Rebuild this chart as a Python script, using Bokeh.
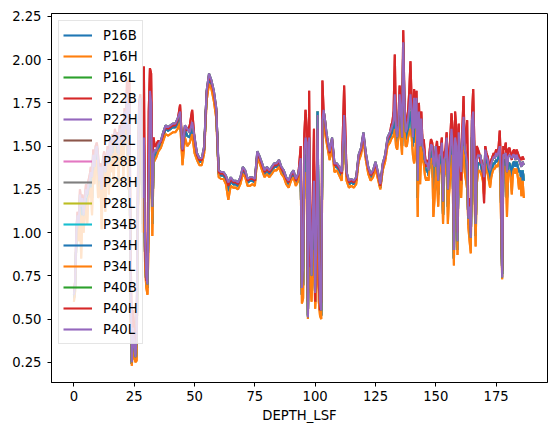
import numpy as np
from bokeh.plotting import figure
from bokeh.models import Range1d, FixedTicker, NumeralTickFormatter, Legend, LegendItem
from bokeh.embed import file_html
from bokeh.resources import INLINE

# ---- depth grid (DEPTH_LSF) ----
depth_a = [float(v) for v in np.arange(0, 35.01, 0.5)]
depth_b = [float(v) for v in range(36, 94)]
depth_c = [float(v) for v in np.arange(94, 105.01, 0.5)]
depth_d = [float(v) for v in range(106, 132)]
depth_e = [float(v) for v in np.arange(131.5, 186.51, 0.5)]

# ---- "high" profile (red, P40H / P22B) ----
hi_a = [0.66, 0.72, 1.02, 1.12, 1.08, 1.25, 1.18, 1.22, 1.14, 1.20,
        1.28, 1.24, 1.30, 1.33, 1.38, 1.34, 1.48, 1.40, 1.50, 1.52,
        1.45, 1.33, 1.40, 1.28, 1.42, 1.47, 1.38, 1.44, 1.50, 1.43,
        1.55, 1.48, 1.57, 1.52, 1.60, 1.53, 1.58, 1.48, 1.62, 1.57,
        1.65, 1.53, 1.72, 1.62, 1.88, 1.55, 1.88, 0.90, 0.40, 0.55,
        0.45, 0.35, 0.45, 1.30, 1.75, 1.80, 1.60, 1.30, 1.96, 0.90,
        0.72, 0.80, 1.70, 1.95, 1.92, 1.40, 1.55, 1.50, 1.50, 1.52,
        1.53]
hi_b = [1.52, 1.57, 1.61, 1.60, 1.61, 1.62, 1.62, 1.65, 1.74, 1.47,
        1.61, 1.59, 1.62, 1.71, 1.54, 1.45, 1.42, 1.42, 1.49, 1.81,
        1.91, 1.87, 1.81, 1.71, 1.35, 1.34, 1.34, 1.32, 1.27, 1.31,
        1.29, 1.29, 1.28, 1.31, 1.37, 1.35, 1.30, 1.31, 1.31, 1.30,
        1.46, 1.43, 1.39, 1.35, 1.37, 1.35, 1.37, 1.39, 1.39, 1.41,
        1.37, 1.35, 1.31, 1.29, 1.33, 1.35, 1.30, 1.33]
hi_c = [1.50, 0.68, 0.90, 1.57, 1.71, 1.60, 0.60, 1.82, 0.80, 0.95,
        1.20, 1.60, 0.60, 1.20, 1.60, 0.70, 0.55, 0.60, 1.88, 1.70,
        1.66, 1.58, 1.54]
hi_d = [1.46, 1.54, 1.39, 1.39, 1.37, 1.34, 1.85, 1.34, 1.29, 1.30,
        1.29, 1.31, 1.44, 1.48, 1.57, 1.45, 1.37, 1.33, 1.35, 1.40,
        1.34, 1.27, 1.39, 1.44, 1.54, 1.57]
hi_e = [1.62, 1.64, 1.70, 2.03, 1.62, 1.57, 1.66, 1.85, 1.75, 1.62,
        2.17, 1.78, 1.62, 1.64, 1.70, 1.82, 1.99, 1.75, 1.60, 1.83,
        1.65, 1.82, 1.40, 1.75, 1.55, 1.70, 1.52, 1.54, 1.45, 1.38,
        1.42, 1.38, 1.48, 1.54, 1.52, 1.45, 1.45, 1.47, 1.53, 1.40,
        1.50, 1.48, 1.55, 1.30, 1.46, 1.48, 1.58, 1.35, 1.45, 1.55,
        1.69, 1.60, 1.00, 1.70, 1.60, 1.00, 1.63, 1.40, 1.30, 1.60,
        1.79, 1.50, 1.55, 1.65, 1.10, 1.20, 1.00, 1.68, 1.83, 1.50,
        1.10, 1.50, 1.48, 1.46, 1.40, 1.42, 1.35, 1.17, 1.50, 1.46,
        1.44, 1.40, 1.38, 1.42, 1.44, 1.46, 1.45, 1.48, 1.46, 1.49,
        1.59, 1.40, 0.78, 1.50, 1.48, 1.52, 1.38, 1.48, 1.49, 1.46,
        1.42, 1.47, 1.48, 1.44, 1.48, 1.46, 1.44, 1.43, 1.42, 1.44,
        1.42]

# ---- "middle" profile (purple, P40L / P22H / P40B) ----
mid_a = [0.64, 0.70, 1.00, 1.10, 1.05, 1.22, 1.15, 1.20, 1.10, 1.18,
         1.25, 1.22, 1.28, 1.30, 1.35, 1.32, 1.45, 1.38, 1.48, 1.50,
         1.42, 1.30, 1.38, 1.25, 1.40, 1.45, 1.35, 1.42, 1.48, 1.40,
         1.52, 1.45, 1.55, 1.50, 1.58, 1.50, 1.55, 1.45, 1.60, 1.55,
         1.62, 1.50, 1.70, 1.60, 1.80, 1.45, 1.75, 0.70, 0.25, 0.45,
         0.35, 0.28, 0.40, 1.20, 1.70, 1.78, 1.55, 1.20, 1.55, 0.95,
         0.75, 0.70, 1.30, 1.82, 1.75, 1.15, 1.45, 1.48, 1.47, 1.49,
         1.51]
mid_b = [1.53, 1.58, 1.62, 1.61, 1.62, 1.63, 1.63, 1.66, 1.70, 1.48,
         1.62, 1.60, 1.58, 1.64, 1.55, 1.46, 1.43, 1.43, 1.50, 1.82,
         1.92, 1.88, 1.82, 1.72, 1.36, 1.35, 1.35, 1.33, 1.29, 1.32,
         1.30, 1.30, 1.29, 1.32, 1.38, 1.36, 1.31, 1.32, 1.32, 1.31,
         1.47, 1.44, 1.40, 1.36, 1.38, 1.36, 1.38, 1.40, 1.40, 1.42,
         1.38, 1.36, 1.32, 1.30, 1.34, 1.36, 1.31, 1.34]
mid_c = [1.43, 0.68, 0.80, 1.47, 1.55, 1.52, 0.51, 1.55, 1.00, 0.75,
         1.10, 1.30, 0.65, 1.00, 1.68, 0.90, 0.60, 0.55, 1.65, 1.71,
         1.66, 1.60, 1.55]
mid_d = [1.47, 1.55, 1.40, 1.40, 1.38, 1.35, 1.68, 1.35, 1.30, 1.31,
         1.30, 1.32, 1.45, 1.49, 1.58, 1.46, 1.38, 1.34, 1.36, 1.41,
         1.35, 1.28, 1.40, 1.45, 1.55, 1.58]
mid_e = [1.60, 1.62, 1.65, 1.80, 1.60, 1.55, 1.62, 1.80, 1.70, 1.55,
         2.10, 1.75, 1.58, 1.60, 1.65, 1.72, 1.80, 1.70, 1.55, 1.78,
         1.60, 1.78, 1.30, 1.70, 1.50, 1.66, 1.50, 1.48, 1.42, 1.40,
         1.40, 1.36, 1.46, 1.51, 1.50, 1.40, 1.38, 1.50, 1.42, 1.30,
         1.45, 1.45, 1.52, 1.18, 1.42, 1.44, 1.55, 1.25, 1.38, 1.48,
         1.60, 1.50, 0.90, 1.55, 1.50, 0.95, 1.58, 1.42, 1.35, 1.55,
         1.67, 1.48, 1.45, 1.40, 1.08, 1.15, 0.97, 1.65, 1.70, 1.45,
         1.05, 1.42, 1.45, 1.44, 1.45, 1.40, 1.38, 1.32, 1.48, 1.44,
         1.42, 1.38, 1.36, 1.40, 1.42, 1.44, 1.43, 1.46, 1.44, 1.47,
         1.50, 1.30, 0.74, 1.45, 1.45, 1.46, 1.35, 1.44, 1.45, 1.44,
         1.43, 1.45, 1.45, 1.42, 1.45, 1.43, 1.42, 1.40, 1.38, 1.41,
         1.39]

# ---- "base" profile (blue / grey / green / others) ----
blu_a = [0.62, 0.68, 0.97, 1.06, 1.00, 1.18, 1.05, 1.15, 1.05, 1.14,
         1.20, 1.15, 1.24, 1.26, 1.30, 1.20, 1.40, 1.33, 1.44, 1.46,
         1.35, 1.26, 1.34, 1.15, 1.36, 1.41, 1.25, 1.38, 1.44, 1.32,
         1.48, 1.40, 1.50, 1.42, 1.54, 1.45, 1.50, 1.38, 1.56, 1.50,
         1.58, 1.42, 1.65, 1.55, 1.72, 1.35, 1.60, 0.60, 0.24, 0.40,
         0.30, 0.26, 0.30, 1.10, 1.62, 1.70, 1.45, 1.05, 1.40, 0.85,
         0.70, 0.68, 1.20, 1.70, 1.60, 1.05, 1.42, 1.45, 1.45, 1.47,
         1.49]
blu_b = [1.51, 1.56, 1.60, 1.59, 1.60, 1.61, 1.61, 1.63, 1.67, 1.44,
         1.59, 1.56, 1.55, 1.60, 1.50, 1.44, 1.41, 1.41, 1.48, 1.79,
         1.89, 1.86, 1.79, 1.69, 1.34, 1.33, 1.33, 1.31, 1.24, 1.30,
         1.28, 1.28, 1.27, 1.30, 1.36, 1.34, 1.29, 1.30, 1.30, 1.29,
         1.45, 1.42, 1.38, 1.34, 1.36, 1.34, 1.36, 1.38, 1.38, 1.40,
         1.36, 1.34, 1.30, 1.28, 1.32, 1.34, 1.29, 1.32]
blu_c = [1.38, 0.64, 0.70, 1.40, 1.45, 1.40, 0.52, 1.40, 0.85, 0.70,
         0.95, 1.10, 0.60, 0.85, 1.70, 0.75, 0.55, 0.52, 1.55, 1.68,
         1.63, 1.57, 1.52]
blu_d = [1.44, 1.52, 1.38, 1.38, 1.36, 1.32, 1.62, 1.33, 1.28, 1.29,
         1.28, 1.30, 1.43, 1.47, 1.56, 1.44, 1.36, 1.32, 1.34, 1.39,
         1.33, 1.26, 1.38, 1.43, 1.53, 1.55]
blu_e = [1.57, 1.58, 1.60, 1.70, 1.55, 1.52, 1.58, 1.72, 1.62, 1.50,
         1.95, 1.68, 1.54, 1.55, 1.60, 1.65, 1.70, 1.62, 1.50, 1.70,
         1.52, 1.70, 1.20, 1.62, 1.40, 1.58, 1.46, 1.44, 1.38, 1.36,
         1.36, 1.33, 1.43, 1.47, 1.46, 1.25, 1.30, 1.44, 1.36, 1.22,
         1.40, 1.40, 1.46, 1.10, 1.38, 1.40, 1.50, 1.15, 1.30, 1.40,
         1.52, 1.40, 0.85, 1.45, 1.40, 0.90, 1.50, 1.36, 1.28, 1.48,
         1.58, 1.42, 1.38, 1.32, 1.05, 1.05, 0.92, 1.55, 1.60, 1.35,
         0.98, 1.35, 1.40, 1.40, 1.40, 1.37, 1.34, 1.28, 1.44, 1.40,
         1.38, 1.34, 1.30, 1.36, 1.38, 1.40, 1.40, 1.42, 1.41, 1.44,
         1.46, 1.20, 0.76, 1.40, 1.42, 1.42, 1.20, 1.40, 1.40, 1.38,
         1.32, 1.40, 1.41, 1.38, 1.41, 1.38, 1.35, 1.36, 1.30, 1.36,
         1.30]

# ---- "low" profile (orange, P34L / P16H) ----
lo_a = [0.60, 0.66, 0.95, 1.02, 0.95, 1.14, 0.85, 1.10, 1.00, 1.10,
        1.16, 1.05, 1.20, 1.22, 1.26, 1.10, 1.36, 1.28, 1.40, 1.42,
        1.20, 1.22, 1.30, 1.02, 1.32, 1.37, 1.12, 1.34, 1.40, 1.22,
        1.44, 1.35, 1.46, 1.30, 1.50, 1.40, 1.46, 1.28, 1.52, 1.45,
        1.54, 1.30, 1.60, 1.50, 1.65, 1.25, 1.50, 0.50, 0.23, 0.35,
        0.28, 0.25, 0.26, 1.00, 1.55, 1.62, 1.35, 1.00, 1.30, 0.80,
        0.68, 0.64, 1.00, 1.60, 1.50, 0.98, 1.40, 1.42, 1.43, 1.45,
        1.47]
lo_b = [1.49, 1.53, 1.57, 1.56, 1.57, 1.58, 1.58, 1.60, 1.64, 1.39,
        1.55, 1.50, 1.52, 1.57, 1.46, 1.42, 1.39, 1.39, 1.46, 1.76,
        1.86, 1.83, 1.76, 1.66, 1.32, 1.31, 1.31, 1.28, 1.19, 1.27,
        1.26, 1.26, 1.25, 1.28, 1.34, 1.32, 1.27, 1.27, 1.28, 1.27,
        1.43, 1.40, 1.36, 1.32, 1.34, 1.32, 1.34, 1.36, 1.36, 1.38,
        1.34, 1.32, 1.28, 1.26, 1.30, 1.32, 1.27, 1.30]
lo_c = [1.35, 0.59, 0.62, 1.30, 1.35, 1.25, 0.50, 1.20, 0.70, 0.60,
        0.80, 0.90, 0.56, 0.70, 1.55, 0.60, 0.52, 0.50, 1.45, 1.65,
        1.60, 1.54, 1.50]
lo_d = [1.42, 1.49, 1.35, 1.36, 1.33, 1.30, 1.58, 1.30, 1.26, 1.27,
        1.26, 1.28, 1.41, 1.45, 1.54, 1.42, 1.34, 1.30, 1.32, 1.37,
        1.31, 1.25, 1.36, 1.41, 1.50, 1.52]
lo_e = [1.54, 1.55, 1.56, 1.60, 1.50, 1.48, 1.55, 1.65, 1.55, 1.45,
        1.80, 1.60, 1.50, 1.50, 1.55, 1.58, 1.60, 1.55, 1.45, 1.40,
        1.45, 1.62, 1.09, 1.55, 1.28, 1.50, 1.42, 1.40, 1.33, 1.30,
        1.32, 1.30, 1.40, 1.43, 1.42, 1.09, 1.20, 1.38, 1.30, 1.15,
        1.35, 1.36, 1.40, 1.05, 1.33, 1.35, 1.44, 1.05, 1.22, 1.32,
        1.45, 1.30, 0.81, 1.35, 1.30, 0.87, 1.42, 1.30, 1.20, 1.40,
        1.50, 1.35, 1.30, 1.25, 1.03, 0.95, 0.88, 1.45, 1.50, 1.25,
        0.92, 1.28, 1.35, 1.36, 1.35, 1.33, 1.30, 1.22, 1.40, 1.36,
        1.34, 1.30, 1.26, 1.32, 1.35, 1.37, 1.37, 1.39, 1.38, 1.40,
        1.42, 1.10, 0.73, 1.35, 1.38, 1.38, 1.09, 1.35, 1.36, 1.32,
        1.22, 1.35, 1.37, 1.34, 1.37, 1.32, 1.25, 1.32, 1.21, 1.30,
        1.20]

depth = depth_a + depth_b + depth_c + depth_d + depth_e
hi = hi_a + hi_b + hi_c + hi_d + hi_e
mid = mid_a + mid_b + mid_c + mid_d + mid_e
blu = blu_a + blu_b + blu_c + blu_d + blu_e
lo = lo_a + lo_b + lo_c + lo_d + lo_e
for arr in (hi, mid, blu, lo):
    assert len(arr) == len(depth), (len(arr), len(depth))

series_names = ["P16B", "P16H", "P16L", "P22B", "P22H", "P22L", "P28B", "P28H",
                "P28L", "P34B", "P34H", "P34L", "P40B", "P40H", "P40L"]
series_values = {
    "P16B": blu, "P16H": lo, "P16L": blu, "P22B": hi, "P22H": mid,
    "P22L": blu, "P28B": blu, "P28H": blu, "P28L": blu, "P34B": blu,
    "P34H": blu, "P34L": lo, "P40B": mid, "P40H": hi, "P40L": mid,
}
tab10 = ["#1f77b4", "#ff7f0e", "#2ca02c", "#d62728", "#9467bd",
         "#8c564b", "#e377c2", "#7f7f7f", "#bcbd22", "#17becf"]
x_ticks = [0, 25, 50, 75, 100, 125, 150, 175]
y_ticks = [0.25, 0.5, 0.75, 1.0, 1.25, 1.5, 1.75, 2.0, 2.25]

FONT = "DejaVu Sans"
FS = "13.2px"

p = figure(frame_width=496, frame_height=369,
           x_range=Range1d(-9.3, 196.3), y_range=Range1d(0.133, 2.267),
           output_backend="svg", toolbar_location=None,
           min_border_left=51, min_border_top=13, min_border_right=6,
           min_border_bottom=44)
p.background_fill_color = "white"
p.border_fill_color = "white"
p.outline_line_color = "black"
p.outline_line_width = 1
p.xgrid.visible = False
p.ygrid.visible = False

items = []
for i, name in enumerate(series_names):
    r = p.line(depth, series_values[name], line_color=tab10[i % 10],
               line_width=2.1)
    items.append(LegendItem(label=name, renderers=[r]))

for ax in (p.xaxis[0], p.yaxis[0]):
    ax.axis_line_color = "black"
    ax.major_tick_line_color = "black"
    ax.major_tick_out = 4
    ax.major_tick_in = 0
    ax.minor_tick_line_color = None
    ax.major_label_text_font = FONT
    ax.major_label_text_font_size = FS
    ax.major_label_text_color = "black"

p.xaxis.ticker = FixedTicker(ticks=x_ticks)
p.yaxis.ticker = FixedTicker(ticks=y_ticks)
p.yaxis.formatter = NumeralTickFormatter(format="0.00")
p.xaxis.major_label_standoff = 4
p.yaxis.major_label_standoff = 6
p.xaxis.axis_label = "DEPTH_LSF"
p.xaxis.axis_label_text_font = FONT
p.xaxis.axis_label_text_font_size = FS
p.xaxis.axis_label_text_font_style = "normal"
p.xaxis.axis_label_text_color = "black"
p.xaxis.axis_label_standoff = 4

legend = Legend(items=items, location="top_left", margin=7,
                label_text_font=FONT, label_text_font_size=FS,
                label_text_color="black",
                glyph_width=29, glyph_height=20, label_height=20,
                label_standoff=11, spacing=1, padding=4,
                border_line_color="#cccccc", border_line_width=1,
                background_fill_color="white", background_fill_alpha=0.8)
p.add_layout(legend, "center")

open("out.html", "w").write(file_html(p, INLINE))
